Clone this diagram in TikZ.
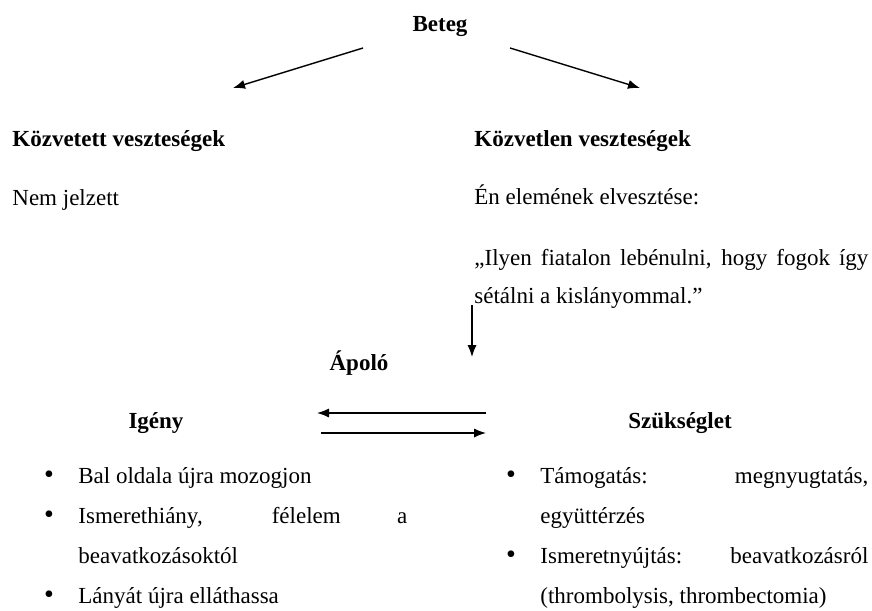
\documentclass[tikz,border=0pt]{standalone}
\usepackage{fontspec}
\setmainfont{Liberation Serif}
\usetikzlibrary{arrows.meta}
\begin{document}
\begin{tikzpicture}[x=0.5pt,y=-0.5pt]

\tikzstyle{every node}=[font=\fontsize{11.5}{20}\selectfont, inner sep=0pt]
\tikzstyle{cim}=[font=\fontsize{11.5}{20}\selectfont\bfseries]
\tikzstyle{bekezdes}=[align=justify, anchor=base west, font=\fontsize{11.5}{20}\selectfont]
\tikzstyle{pont}=[anchor=base, font=\fontsize{14}{20}\selectfont]
\tikzstyle{nyil}=[->, >={Latex[length=6pt,width=4.6pt]}, line width=0.7pt]

\useasboundingbox (0,0) rectangle (872,610);

\pgfmathsetmacro\bal{12}
\pgfmathsetmacro\jobb{474}

\node[cim, anchor=base] (beteg) at (440, 32) {Beteg};

\coordinate (beteg_bal) at (363, 48);
\coordinate (beteg_jobb) at (510, 48);
\coordinate (bal_vege) at (233, 88);
\coordinate (jobb_vege) at (640, 88);

\draw[nyil] (beteg_bal) -- (bal_vege);
\draw[nyil] (beteg_jobb) -- (jobb_vege);

\node[cim, anchor=base west] (kozvetett) at (\bal, 147) {Közvetett veszteségek};
\node[cim, anchor=base west] (kozvetlen) at (\jobb, 147) {Közvetlen veszteségek};

\node[anchor=base west] (nem_jelzett) at (\bal, 205) {Nem jelzett};
\node[anchor=base west] (en_elem) at (\jobb, 204) {Én elemének elvesztése:};

\node[bekezdes, text width=197pt, font=\fontsize{11.5}{19}\selectfont] (idezet) at (\jobb, 265)
{„Ilyen fiatalon lebénulni, hogy fogok így \linebreak sétálni a kislányommal.”};

\coordinate (idezet_ki) at (472, 305);
\coordinate (apolo_be) at (472, 357);
\draw[nyil] (idezet_ki) -- (apolo_be);

\node[cim, anchor=base] (apolo) at (359, 370) {Ápoló};

\node[cim, anchor=base] (igeny) at (156, 428) {Igény};
\node[cim, anchor=base] (szukseglet) at (680, 428) {Szükséglet};

\coordinate (felso_jobb) at (486, 413);
\coordinate (felso_bal) at (317, 413);
\coordinate (also_bal) at (321, 433);
\coordinate (also_jobb) at (486, 433);
\draw[nyil] (felso_jobb) -- (felso_bal);
\draw[nyil] (also_bal) -- (also_jobb);

% Igeny
\pgfmathsetmacro\y{483}
\node[pont] (igeny_p1) at (49, \y) {\textbullet};
\node[bekezdes, text width=164.5pt] (igeny_1) at (78, \y) {Bal oldala újra mozogjon};

\pgfmathsetmacro\y{\y+40}
\node[pont] (igeny_p2) at (49, \y) {\textbullet};
\node[bekezdes, text width=164.5pt] (igeny_2) at (78, \y) {Ismerethiány, félelem a \linebreak beavatkozásoktól};

\pgfmathsetmacro\y{\y+80}
\node[pont] (igeny_p3) at (49, \y) {\textbullet};
\node[bekezdes, text width=164.5pt] (igeny_3) at (78, \y) {Lányát újra elláthassa};

% Szukseglet
\pgfmathsetmacro\y{483}
\node[pont] (szukseglet_p1) at (511, \y) {\textbullet};
\node[bekezdes, text width=164pt] (szukseglet_1) at (540, \y) {Támogatás: megnyugtatás, \linebreak együttérzés};

\pgfmathsetmacro\y{\y+80}
\node[pont] (szukseglet_p2) at (511, \y) {\textbullet};
\node[bekezdes, text width=164pt] (szukseglet_2) at (540, \y) {Ismeretnyújtás: beavatkozásról \linebreak (thrombolysis, thrombectomia)};

\end{tikzpicture}
\end{document}
